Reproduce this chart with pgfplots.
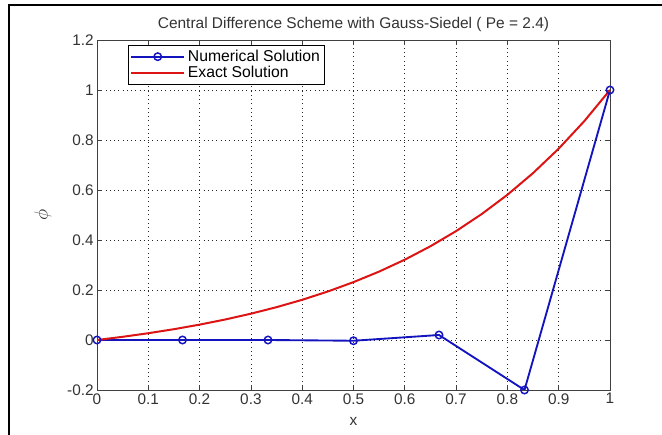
\documentclass[border=0pt]{standalone}
\usepackage{fontspec}
\setmainfont{Liberation Sans}
\usepackage{pgfplots}
\pgfplotsset{compat=1.18}
\definecolor{numblue}{RGB}{20,20,190}
\definecolor{exred}{RGB}{220,20,20}
\begin{document}
\begin{tikzpicture}[x=0.75pt,y=0.75pt]
\useasboundingbox (0,0) rectangle (662,435);
\draw[line width=1.2pt] (9,0) -- (9,430) -- (662,430);
\begin{axis}[
  at={(97*0.75pt,45*0.75pt)}, anchor=south west,
  scale only axis, width=384.75pt, height=262.5pt,
  xmin=0, xmax=1, ymin=-0.2, ymax=1.2,
  xtick={0,0.1,...,1}, ytick={-0.2,0,...,1.2},
  xticklabels={0,0.1,0.2,0.3,0.4,0.5,0.6,0.7,0.8,0.9,1},
  yticklabels={-0.2,0,0.2,0.4,0.6,0.8,1,1.2},
  /pgf/number format/assume math mode=true,
  tick label style={font=\fontsize{11.5}{13}\selectfont, text=black!80},
  xticklabel style={yshift=1pt},
  yticklabel style={xshift=1pt},
  grid=major,
  major grid style={black!85, dash pattern=on 0.6pt off 2.6pt, line width=0.6pt},
  tick align=inside, tick pos=both,
  major tick length=4pt,
  tick style={black!75, line width=0.6pt},
  axis line style={black!75, line width=0.6pt},
  title={Central Difference Scheme with Gauss-Siedel ( Pe = 2.4)},
  title style={font=\fontsize{11.6}{13}\selectfont, text=black!80, yshift=-3pt},
  xlabel={x}, ylabel={$\phi$},
  label style={font=\fontsize{11.5}{13}\selectfont, text=black!80},
  xlabel style={yshift=-3pt},
  ylabel style={font=\fontsize{15}{16}\selectfont, yshift=5pt},
  legend style={at={(0.06,0.986)}, anchor=north west, draw=black, line width=0.6pt,
    font=\fontsize{11.8}{13}\selectfont, inner sep=1.5pt, row sep=-2pt, cells={anchor=west}},
  legend cell align=left,
  legend image code/.code={\draw[mark repeat=2,mark phase=2] plot coordinates {(0cm,0cm) (0.7cm,0cm) (1.4cm,0cm)};},
]
\addplot[numblue, line width=1.4pt, mark=o, mark size=2.8pt, mark options={line width=1.1pt}]
  coordinates {(0,0) (0.16667,0) (0.33333,0) (0.5,-0.003) (0.66667,0.02) (0.83333,-0.2) (1,1)};
\addlegendentry{Numerical Solution}
\addplot[exred, line width=1.5pt]
  coordinates {(0,0) (0.05,0.01272) (0.1,0.0271) (0.15,0.0432) (0.2,0.0615) (0.25,0.0820)
   (0.3,0.1052) (0.35,0.1313) (0.4,0.1608) (0.45,0.1940) (0.5,0.2315) (0.55,0.2737)
   (0.6,0.3213) (0.65,0.3750) (0.7,0.4356) (0.75,0.5038) (0.8,0.5808) (0.85,0.6676)
   (0.9,0.7654) (0.95,0.8757) (1,1)};
\addlegendentry{Exact Solution}
\end{axis}
\end{tikzpicture}
\end{document}
